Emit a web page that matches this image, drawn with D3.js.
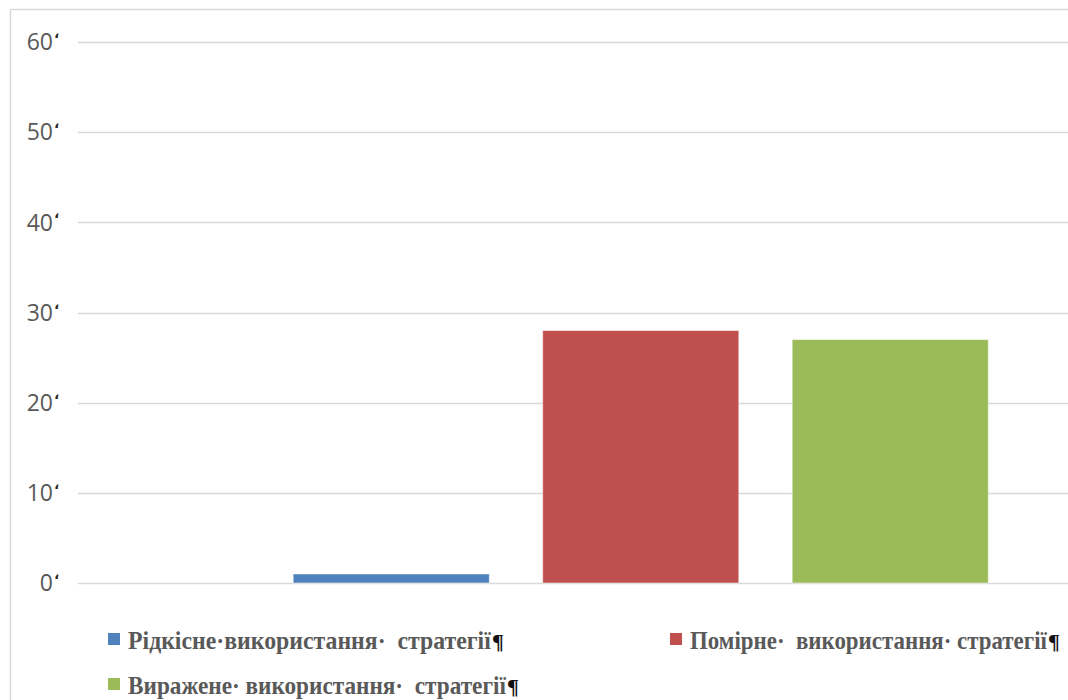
<!DOCTYPE html>
<html>
<head>
<meta charset="utf-8">
<script src="https://cdn.jsdelivr.net/npm/d3@7"></script>
<style>
  html, body { margin: 0; padding: 0; background: #fff; }
  svg { display: block; }
  .legend-label { white-space: pre; font-family: "Liberation Serif", "Times New Roman", serif; }
</style>
</head>
<body>
<svg id="chart" width="1068" height="700"></svg>
<script>
// Series of the bar chart (one bar per strategy level)
const seriesNames = [
  "Рідкісне·використання·  стратегії",
  "Помірне·  використання· стратегії",
  "Виражене· використання·  стратегії"
];
const seriesValues = [1, 28, 27];
const seriesColors = ["#4f81bd", "#c0504d", "#9bbb59"];
const yTicks = [0, 10, 20, 30, 40, 50, 60];

const svg = d3.select("#chart");
const W = 1068, H = 700;

// Outer frame of the chart area
svg.append("rect")
  .attr("x", 10.5).attr("y", 9.5)
  .attr("width", W + 20).attr("height", H + 20)
  .attr("fill", "#fff")
  .attr("stroke", "#d9d9d9")
  .attr("stroke-width", 1.5);

const plot = { left: 78, right: 1068, top: 42, bottom: 583 };

const y = d3.scaleLinear()
  .domain([0, 60])
  .range([plot.bottom, plot.top]);

const x = d3.scaleBand()
  .domain(seriesNames)
  .range([266.5, 1015])
  .paddingInner(0.214)
  .paddingOuter(0.107);

// Horizontal gridlines
svg.append("g")
  .selectAll("line")
  .data(yTicks)
  .join("line")
  .attr("x1", plot.left).attr("x2", plot.right)
  .attr("y1", d => Math.round(y(d)) + 0.5)
  .attr("y2", d => Math.round(y(d)) + 0.5)
  .attr("stroke", "#d9d9d9")
  .attr("stroke-width", 1.5);

// Y tick labels, each followed by a small dark mark
const tickG = svg.append("g");
tickG.selectAll("text.val")
  .data(yTicks)
  .join("text")
  .attr("class", "val")
  .attr("x", 53)
  .attr("y", d => y(d))
  .attr("dy", "0.36em")
  .attr("text-anchor", "end")
  .attr("font-family", "'Open Sans', sans-serif")
  .attr("font-size", 23)
  .attr("fill", "#595959")
  .text(d => d);
tickG.selectAll("text.mark")
  .data(yTicks)
  .join("text")
  .attr("class", "mark")
  .attr("x", 54)
  .attr("y", d => y(d) + 2)
  .attr("font-family", "'DejaVu Sans', sans-serif")
  .attr("font-size", 14)
  .attr("font-weight", "bold")
  .attr("fill", "#222")
  .text("ʻ");

// Bars
svg.append("g")
  .selectAll("rect")
  .data(seriesNames)
  .join("rect")
  .attr("x", d => x(d))
  .attr("width", x.bandwidth())
  .attr("y", (d, i) => y(seriesValues[i]))
  .attr("height", (d, i) => y(0) - y(seriesValues[i]))
  .attr("fill", (d, i) => seriesColors[i])
  .attr("stroke", "rgba(255,255,255,0.5)")
  .attr("stroke-width", 1);

// Legend: swatch, horizontally condensed label, trailing pilcrow
const legendPos = [
  { x: 108, y: 649, w: 363 },
  { x: 670, y: 649, w: 357 },
  { x: 108, y: 694, w: 378 }
];
const legend = svg.append("g")
  .selectAll("g")
  .data(seriesNames)
  .join("g")
  .attr("transform", (d, i) => `translate(${legendPos[i].x},${legendPos[i].y})`);

legend.append("rect")
  .attr("x", 0).attr("y", -16)
  .attr("width", 12).attr("height", 12)
  .attr("fill", (d, i) => seriesColors[i]);

legend.each(function(d, i) {
  const g = d3.select(this);
  const wrap = g.append("g").attr("transform", "translate(20,0)");
  const t = wrap.append("text")
    .attr("class", "legend-label")
    .attr("x", 0)
    .attr("y", 0)
    .attr("font-weight", "bold")
    .attr("font-size", 25)
    .attr("fill", "#595959")
    .text(d);
  const natural = t.node().getComputedTextLength();
  wrap.attr("transform", `translate(20,0) scale(${legendPos[i].w / natural},1)`);

  g.append("text")
    .attr("class", "legend-label")
    .attr("x", 20 + legendPos[i].w + 1)
    .attr("y", 0)
    .attr("font-weight", "bold")
    .attr("font-size", 22)
    .attr("fill", "#111")
    .text("¶");
});
</script>
</body>
</html>
